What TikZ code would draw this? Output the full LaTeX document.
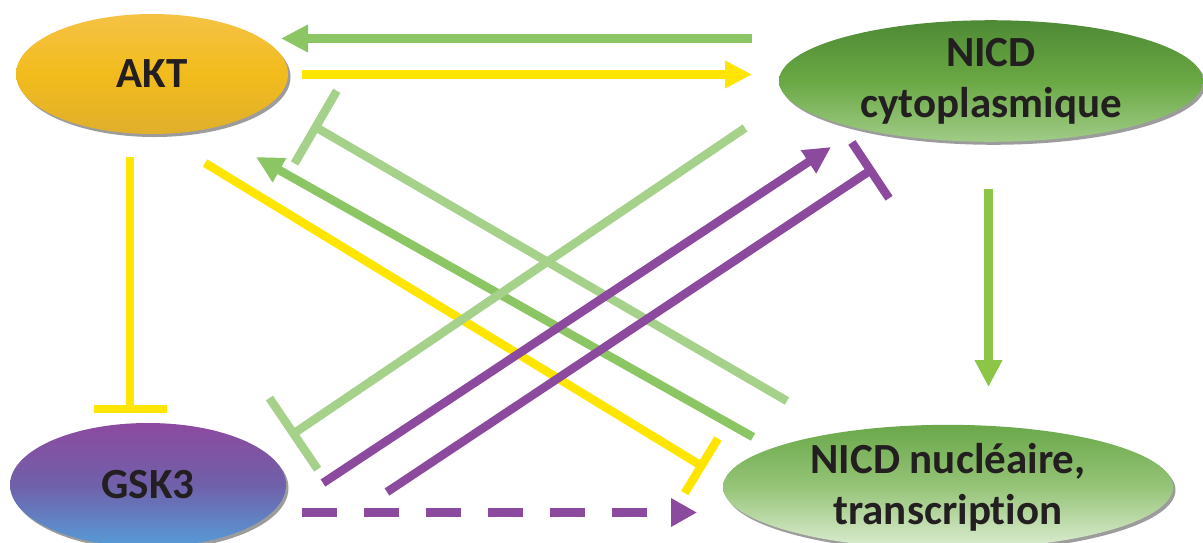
\documentclass[tikz,border=0pt]{standalone}
\usepackage{fontspec}
\setmainfont{Carlito}[Ligatures=NoCommon]
\usetikzlibrary{arrows.meta,shapes.geometric,shadows}
\definecolor{cyel}{HTML}{FFE500}
\definecolor{cgreen}{HTML}{8CC563}
\definecolor{clight}{HTML}{A6D18B}
\definecolor{cpurple}{HTML}{8B4A9E}
\definecolor{cvert}{HTML}{8DC646}
\definecolor{ctext}{HTML}{231F20}
\definecolor{aktT}{HTML}{F5C245}
\definecolor{aktM}{HTML}{F2BC1C}
\definecolor{aktB}{HTML}{E0AF2C}
\definecolor{cytT}{HTML}{4E8A35}
\definecolor{cytM}{HTML}{6AA844}
\definecolor{cytB}{HTML}{A0CC87}
\definecolor{gskT}{HTML}{8C4A9F}
\definecolor{gskM}{HTML}{7060AA}
\definecolor{gskB}{HTML}{559CD7}
\definecolor{nucT}{HTML}{6AA84A}
\definecolor{nucM}{HTML}{96C478}
\definecolor{nucB}{HTML}{DEEED4}
\tikzset{
  blob/.style={ellipse, inner sep=0pt, draw=none, text=ctext,
    font=\fontsize{43}{51}\selectfont\bfseries, align=center,
    drop shadow={shadow xshift=2.5pt, shadow yshift=-3pt, opacity=0.55, fill=black!70}},
  link/.style={line width=8.5pt},
  act/.style={link, -{Triangle[length=27pt,width=26pt]}},
  inh/.style={link, -{Bar[width=#1]}},
}
\begin{document}
\begin{tikzpicture}[x=1pt,y=-1pt]
\useasboundingbox (0,0) rectangle (1203,542);
\clip (0,0) rectangle (1203,542);
\fill[white] (0,0) rectangle (1203,542);

\node[blob, minimum width=272pt, minimum height=120pt,
  top color=aktT, bottom color=aktB, middle color=aktM] (akt) at (152,74) {AKT};
\node[blob, minimum width=424pt, minimum height=118pt,
  top color=cytT, bottom color=cytB, middle color=cytM] (cyto) at (991,81) {NICD\\cytoplasmique};
\node[blob, minimum width=276pt, minimum height=124pt,
  top color=gskT, bottom color=gskB, middle color=gskM] (gsk) at (148,485) {GSK3};
\node[blob, minimum width=450pt, minimum height=124pt,
  top color=nucT, bottom color=nucB, middle color=nucM] (nuc) at (948,487) {NICD nucléaire,\\transcription};

% endpoints
\coordinate (g1s) at (752,38.5);  \coordinate (g1e) at (281,38.5);
\coordinate (y1s) at (302,74.5);  \coordinate (y1e) at (752,74.5);
\coordinate (y2s) at (130,157);   \coordinate (y2e) at (130,413);
\coordinate (v1s) at (988.5,189); \coordinate (v1e) at (988.5,387);
\coordinate (l1s) at (787,401);   \coordinate (l1e) at (312,125);
\coordinate (g2s) at (753,437);   \coordinate (g2e) at (256,157);
\coordinate (y3s) at (205,163);   \coordinate (y3e) at (705,468);
\coordinate (l2s) at (745,128);   \coordinate (l2e) at (290,436);
\coordinate (p1s) at (323,483);   \coordinate (p1e) at (831,147);
\coordinate (p2s) at (387,492);   \coordinate (p2e) at (874,168);
\coordinate (p3s) at (302,512.5); \coordinate (p3e) at (697,512.5);

\draw[act, cgreen] (g1s) -- (g1e);
\draw[act, cyel] (y1s) -- (y1e);
\draw[inh=73pt, cyel] (y2s) -- (y2e);
\draw[act, cvert] (v1s) -- (v1e);
\draw[inh=84pt, clight] (l1s) -- (l1e);
\draw[act, cgreen] (g2s) -- (g2e);
\draw[inh=64pt, cyel] (y3s) -- (y3e);
\draw[inh=86pt, clight] (l2s) -- (l2e);
\draw[act, cpurple] (p1s) -- (p1e);
\draw[inh=67pt, cpurple] (p2s) -- (p2e);
\draw[link, cpurple, dash pattern=on 35pt off 27pt, -{Triangle[length=26pt,width=27pt]}] (p3s) -- (p3e);
\end{tikzpicture}
\end{document}
